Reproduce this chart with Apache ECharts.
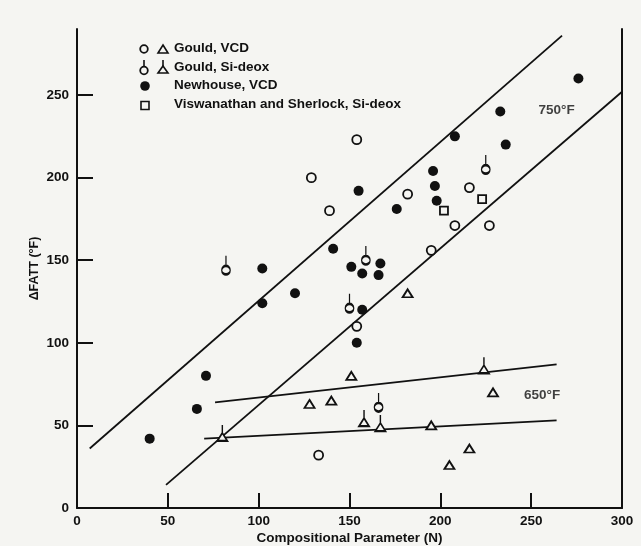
<!DOCTYPE html>
<html>
<head>
<meta charset="utf-8">
<script src="https://cdn.jsdelivr.net/npm/echarts@6/dist/echarts.min.js"></script>
<style>
  html, body { margin: 0; padding: 0; background: #f5f5f2; }
  #echarts { width: 641px; height: 546px; }
</style>
</head>
<body>
<div id="echarts"></div>
<script>
// data
var gouldVcdCircles = [[129, 200], [154, 223], [139, 180], [182, 190], [216, 194], [208, 171], [227, 171], [195, 156], [154, 110], [133, 32]];
var gouldVcdTriangles = [[182, 130], [151, 80], [140, 65], [128, 63], [229, 70], [195, 50], [216, 36], [205, 26]];
var gouldSiCircles = [[82, 144], [225, 205], [159, 150], [150, 121], [166, 61]];
var gouldSiTriangles = [[80, 43], [224, 84], [158, 52], [167, 49]];
var newhouse = [[40, 42], [66, 60], [71, 80], [102, 124], [102, 145], [120, 130], [141, 157], [151, 146], [157, 142],
                [166, 141], [167, 148], [157, 120], [154, 100], [155, 192], [176, 181], [196, 204], [197, 195],
                [198, 186], [208, 225], [233, 240], [236, 220], [276, 260]];
var viswanathan = [[223, 187], [202, 180]];
// band lines
var line750Upper = [[7, 36], [267, 286]];
var line750Lower = [[49, 14], [300, 252]];
var line650Upper = [[76, 64], [264, 87]];
var line650Lower = [[70, 42], [264, 53]];
var bandLabels = [{name: '750°F', value: [264, 241]}, {name: '650°F', value: [256, 68]}];
// axes
var xTicks = [50, 100, 150, 200, 250];
var xLabels = [0, 50, 100, 150, 200, 250, 300];
var yTicks = [50, 100, 150, 200, 250];
var yLabels = [0, 50, 100, 150, 200, 250];

window.onload = function () {
    var ink = '#111';
    var paper = '#f5f5f2';
    var font = 'Liberation Sans, Arial, sans-serif';

    var siCircle = 'path://M5,0 L5,9 M9,13.5 A4,4 0 1,1 1,13.5 A4,4 0 1,1 9,13.5 Z';
    var siTriangle = 'path://M5,0 L5,8 M5,8 L10,16 L0,16 Z';

    var openStyle = {color: paper, borderColor: ink, borderWidth: 1.8, opacity: 1};

    function bandLine(d) {
        return {
            type: 'line', data: d, showSymbol: false, symbol: 'none', silent: true, z: 1,
            lineStyle: {color: ink, width: 1.8}
        };
    }

    // legend drawn by hand (two symbols per row)
    var legend = [
        {type: 'circle', shape: {cx: 144, cy: 49, r: 3.8}, style: {fill: paper, stroke: ink, lineWidth: 1.8}},
        {type: 'polygon', shape: {points: [[163, 45], [168, 53], [158, 53]]}, style: {fill: paper, stroke: ink, lineWidth: 1.6}},
        {type: 'line', shape: {x1: 144, y1: 60, x2: 144, y2: 67}, style: {stroke: ink, lineWidth: 1.6}},
        {type: 'circle', shape: {cx: 144, cy: 70.5, r: 3.8}, style: {fill: paper, stroke: ink, lineWidth: 1.8}},
        {type: 'line', shape: {x1: 163, y1: 60, x2: 163, y2: 66}, style: {stroke: ink, lineWidth: 1.6}},
        {type: 'polygon', shape: {points: [[163, 66], [168, 73], [158, 73]]}, style: {fill: paper, stroke: ink, lineWidth: 1.6}},
        {type: 'circle', shape: {cx: 145, cy: 86, r: 4.8}, style: {fill: ink}},
        {type: 'rect', shape: {x: 141, y: 101.5, width: 8, height: 8}, style: {fill: paper, stroke: ink, lineWidth: 1.6}}
    ];
    var legendText = ['Gould, VCD', 'Gould, Si-deox', 'Newhouse, VCD', 'Viswanathan and Sherlock, Si-deox'];
    var legendY = [49, 68, 86, 105];
    for (var i = 0; i < legendText.length; i++) {
        legend.push({
            type: 'text', left: 174, top: legendY[i] - 8,
            style: {text: legendText[i], fill: ink, font: 'bold 13.5px ' + font}
        });
    }

    var txt = {color: ink, fontSize: 13.5, fontWeight: 'bold', fontFamily: font};

    var option = {
        backgroundColor: paper,
        animation: false,
        grid: {left: 77, right: 19, top: 29, bottom: 38, containLabel: false, outerBoundsMode: 'none'},
        xAxis: {
            type: 'value', min: 0, max: 300,
            name: 'Compositional Parameter (N)', nameLocation: 'middle', nameGap: 23, nameMoveOverlap: false,
            nameTextStyle: txt,
            axisLine: {show: true, lineStyle: {color: ink, width: 2}},
            axisTick: {show: true, inside: true, length: 15, customValues: xTicks, lineStyle: {color: ink, width: 2}},
            axisLabel: Object.assign({margin: 6, customValues: xLabels}, txt),
            splitLine: {show: false}
        },
        yAxis: [{
            type: 'value', min: 0, max: 290,
            name: 'ΔFATT (°F)', nameLocation: 'middle', nameGap: 36, nameRotate: 90, nameMoveOverlap: false,
            nameTextStyle: {color: ink, fontSize: 12.5, fontWeight: 'bold', fontFamily: font},
            axisLine: {show: true, lineStyle: {color: ink, width: 2}},
            axisTick: {show: true, inside: true, length: 16, customValues: yTicks, lineStyle: {color: ink, width: 2}},
            axisLabel: Object.assign({margin: 8, customValues: yLabels}, txt),
            splitLine: {show: false}
        }, {
            type: 'value', min: 0, max: 290, position: 'right',
            axisLine: {show: true, lineStyle: {color: ink, width: 2}},
            axisTick: {show: false}, axisLabel: {show: false}, splitLine: {show: false}
        }],
        graphic: legend,
        series: [
            bandLine(line750Upper),
            bandLine(line750Lower),
            bandLine(line650Upper),
            bandLine(line650Lower),
            {name: 'Gould, VCD', type: 'scatter', z: 3, data: gouldVcdCircles,
             symbol: 'circle', symbolSize: 9, itemStyle: openStyle},
            {name: 'Gould, VCD', type: 'scatter', z: 3, data: gouldVcdTriangles,
             symbol: 'triangle', symbolSize: [10, 8], itemStyle: openStyle},
            {name: 'Gould, Si-deox', type: 'scatter', z: 3, data: gouldSiCircles,
             symbol: siCircle, symbolSize: [8.5, 18.6], symbolOffset: [0, -5], itemStyle: openStyle},
            {name: 'Gould, Si-deox', type: 'scatter', z: 3, data: gouldSiTriangles,
             symbol: siTriangle, symbolSize: [10, 16], symbolOffset: [0, -4], itemStyle: openStyle},
            {name: 'Newhouse, VCD', type: 'scatter', z: 3, data: newhouse,
             symbol: 'circle', symbolSize: 10, itemStyle: {color: ink, opacity: 1}},
            {name: 'Viswanathan and Sherlock, Si-deox', type: 'scatter', z: 3, data: viswanathan,
             symbol: 'rect', symbolSize: 8, itemStyle: openStyle},
            {type: 'scatter', data: bandLabels, symbolSize: 0, silent: true,
             label: Object.assign({show: true, position: 'inside', formatter: '{b}'}, txt)}
        ]
    };
    var myChart = echarts.init(document.getElementById('echarts'));
    myChart.setOption(option);
};
</script>
</body>
</html>
